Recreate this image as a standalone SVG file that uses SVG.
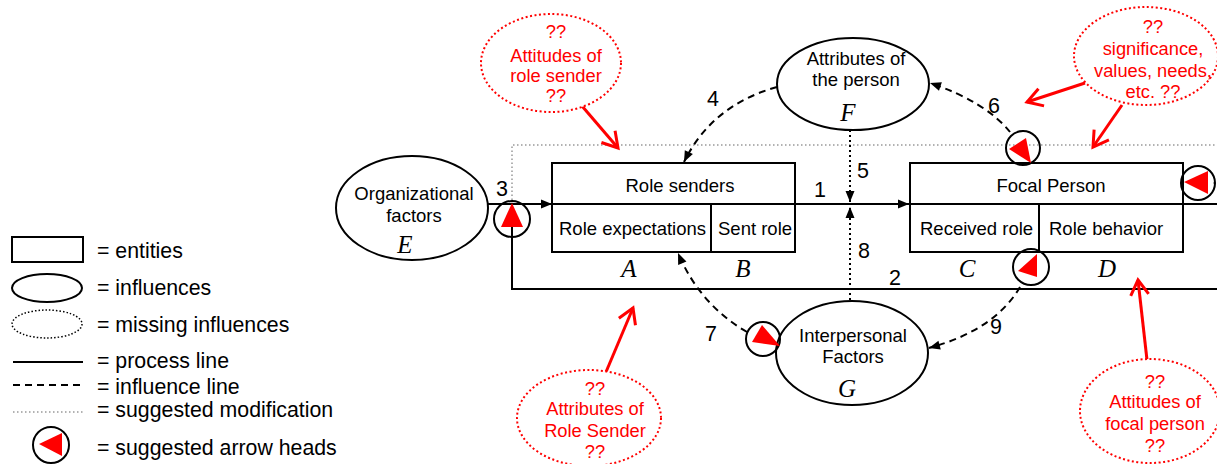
<svg xmlns="http://www.w3.org/2000/svg" width="1217" height="464" viewBox="0 0 1217 464">
  <defs>
    <style>
      .lbl { font-family: "Liberation Sans", Arial, sans-serif; font-size: 18.5px; fill: #000; }
      .leg { font-family: "Liberation Sans", Arial, sans-serif; font-size: 21.3px; fill: #000; }
      .num { font-family: "Liberation Sans", Arial, sans-serif; font-size: 21.5px; fill: #000; }
      .red { font-family: "Liberation Sans", Arial, sans-serif; font-size: 18.3px; fill: #ff0000; text-anchor: middle; }
      .ital { font-family: "Liberation Serif", "Times New Roman", serif; font-style: italic; font-size: 25px; fill: #000; }
      .box { fill: #fff; stroke: #000; stroke-width: 2; }
      .ell { fill: #fff; stroke: #000; stroke-width: 2; }
      .proc { fill: none; stroke: #000; stroke-width: 2; }
      .infl { fill: none; stroke: #000; stroke-width: 2; stroke-dasharray: 7 5; }
      .dot { fill: none; stroke: #000; stroke-width: 2; stroke-dasharray: 2 3; }
      .sugg { fill: none; stroke: #999; stroke-width: 1.5; stroke-dasharray: 1.5 2.5; }
      .miss { fill: #fff; stroke: #ff0000; stroke-width: 2; stroke-dasharray: 2 2.5; }
      .redarrow { fill: none; stroke: #ff0000; stroke-width: 3; }
      .ring { fill: none; stroke: #000; stroke-width: 2; }
      .tri { fill: #ff0000; stroke: none; }
    </style>
    <marker id="arr" markerUnits="userSpaceOnUse" viewBox="-12 -6 13 12" refX="0" refY="0" markerWidth="13" markerHeight="12" orient="auto">
      <path d="M-11,-4.5 L0,0 L-11,4.5 z" fill="#000"/>
    </marker>
    <marker id="openRed" markerUnits="userSpaceOnUse" viewBox="-18 -12 22 24" refX="0" refY="0" markerWidth="22" markerHeight="24" orient="auto">
      <path d="M-15,-9 L0,0 L-15,9" fill="none" stroke="#ff0000" stroke-width="3"/>
    </marker>
  </defs>

  <rect width="1217" height="464" fill="#fff"/>

  <!-- legend -->
  <g id="legend">
    <rect x="12" y="237" width="71" height="25" class="box"/>
    <text x="97" y="258" class="leg">= entities</text>
    <ellipse cx="47" cy="288" rx="35" ry="14" class="ell"/>
    <text x="97" y="295" class="leg">= influences</text>
    <ellipse cx="47" cy="324" rx="35" ry="14" fill="none" stroke="#000" stroke-width="1.5" stroke-dasharray="1.5 2"/>
    <text x="97" y="332" class="leg">= missing influences</text>
    <line x1="13" y1="362" x2="83" y2="362" class="proc"/>
    <text x="97" y="368" class="leg">= process line</text>
    <line x1="13" y1="385" x2="83" y2="385" class="infl"/>
    <text x="97" y="394" class="leg">= influence line</text>
    <line x1="13" y1="412" x2="83" y2="412" class="sugg"/>
    <text x="97" y="417" class="leg">= suggested modification</text>
    <circle cx="51" cy="445" r="18" class="ring"/>
    <polygon points="39,444 62,433 62,456" class="tri"/>
    <text x="97" y="455" class="leg">= suggested arrow heads</text>
  </g>

  <!-- connectors -->
  <g id="connectors">
    <!-- suggested modification path -->
    <path d="M512,204 V145 H1217" class="sugg"/>
    <line x1="1213" y1="183" x2="1217" y2="183" class="sugg"/>
    <!-- process lines -->
    <line x1="488" y1="204" x2="552" y2="204" class="proc" marker-end="url(#arr)"/>
    <line x1="795" y1="204" x2="909" y2="204" class="proc" marker-end="url(#arr)"/>
    <line x1="1183" y1="204" x2="1217" y2="204" class="proc"/>
    <path d="M1217,289 H512 V206" class="proc"/>
    <!-- influence lines -->
    <path d="M777,87 Q712,105 684,162" class="infl" marker-end="url(#arr)"/>
    <path d="M1010,132 Q986,102 930,83" class="infl" marker-end="url(#arr)"/>
    <path d="M747,332 Q700,305 678,253" class="infl" marker-end="url(#arr)"/>
    <path d="M1020,287 Q995,330 929,348" class="infl" marker-end="url(#arr)"/>
    <!-- dotted influences -->
    <line x1="850" y1="130" x2="850" y2="202" class="dot" marker-end="url(#arr)"/>
    <line x1="850" y1="300" x2="850" y2="207" class="dot" marker-end="url(#arr)"/>
    <!-- labels -->
    <text x="814" y="197" class="num">1</text>
    <text x="889" y="285" class="num">2</text>
    <text x="496" y="196" class="num">3</text>
    <text x="707" y="106" class="num">4</text>
    <text x="857" y="178" class="num">5</text>
    <text x="988" y="113" class="num">6</text>
    <text x="705" y="341" class="num">7</text>
    <text x="858" y="258" class="num">8</text>
    <text x="990" y="334" class="num">9</text>
    <!-- red suggestion arrows -->
    <line x1="582" y1="106" x2="618" y2="148" class="redarrow" marker-end="url(#openRed)"/>
    <line x1="1085" y1="83" x2="1027" y2="102" class="redarrow" marker-end="url(#openRed)"/>
    <line x1="1122" y1="105" x2="1093" y2="147" class="redarrow" marker-end="url(#openRed)"/>
    <line x1="606" y1="372" x2="633" y2="308" class="redarrow" marker-end="url(#openRed)"/>
    <line x1="1147" y1="360" x2="1138" y2="280" class="redarrow" marker-end="url(#openRed)"/>
  </g>

  <!-- E: organizational factors -->
  <g id="node-E">
    <ellipse cx="412" cy="208" rx="76" ry="52" class="ell"/>
    <text x="414" y="200" class="lbl" text-anchor="middle">Organizational</text>
    <text x="414" y="222" class="lbl" text-anchor="middle">factors</text>
    <text x="405" y="253" class="ital" text-anchor="middle">E</text>
  </g>

  <!-- A/B: role senders -->
  <g id="node-role-senders">
    <rect x="552" y="163" width="243" height="89" class="box"/>
    <line x1="552" y1="204" x2="795" y2="204" class="proc"/>
    <line x1="711" y1="204" x2="711" y2="252" class="proc"/>
    <text x="680" y="192" class="lbl" text-anchor="middle">Role senders</text>
    <text x="559" y="235" class="lbl">Role expectations</text>
    <text x="718" y="235" class="lbl">Sent role</text>
    <text x="629" y="277" class="ital" text-anchor="middle">A</text>
    <text x="743" y="277" class="ital" text-anchor="middle">B</text>
  </g>

  <!-- C/D: focal person -->
  <g id="node-focal-person">
    <rect x="910" y="163" width="273" height="89" class="box"/>
    <line x1="910" y1="204" x2="1183" y2="204" class="proc"/>
    <line x1="1039" y1="204" x2="1039" y2="252" class="proc"/>
    <text x="1051" y="192" class="lbl" text-anchor="middle">Focal Person</text>
    <text x="920" y="235" class="lbl">Received role</text>
    <text x="1049" y="235" class="lbl">Role behavior</text>
    <text x="967" y="277" class="ital" text-anchor="middle">C</text>
    <text x="1107" y="277" class="ital" text-anchor="middle">D</text>
  </g>

  <!-- F: attributes of the person -->
  <g id="node-F">
    <ellipse cx="853" cy="84" rx="76" ry="46" class="ell"/>
    <text x="856" y="65" class="lbl" text-anchor="middle">Attributes of</text>
    <text x="856" y="86" class="lbl" text-anchor="middle">the person</text>
    <text x="848" y="121" class="ital" text-anchor="middle">F</text>
  </g>

  <!-- G: interpersonal factors -->
  <g id="node-G">
    <ellipse cx="852" cy="353" rx="76" ry="52" class="ell"/>
    <text x="853" y="342" class="lbl" text-anchor="middle">Interpersonal</text>
    <text x="853" y="363" class="lbl" text-anchor="middle">Factors</text>
    <text x="847" y="397" class="ital" text-anchor="middle">G</text>
  </g>

  <!-- suggested arrow heads -->
  <g id="suggested-heads">
    <circle cx="512" cy="219" r="18" class="ring"/>
    <polygon points="512,203 501,227 523,227" class="tri"/>
    <circle cx="1023" cy="148" r="17" class="ring"/>
    <polygon points="1009,149 1026,138 1031,163" class="tri"/>
    <circle cx="1198" cy="183" r="17" class="ring"/>
    <polygon points="1184,182 1208,171 1208,194" class="tri"/>
    <circle cx="763" cy="339" r="17" class="ring"/>
    <polygon points="762,325 752,342 780,346" class="tri"/>
    <circle cx="1031" cy="267" r="18" class="ring"/>
    <polygon points="1018,271 1037,254 1037,277" class="tri"/>
  </g>

  <!-- missing influences -->
  <g id="missing-role-sender-attitudes">
    <ellipse cx="551" cy="63" rx="70" ry="49" class="miss"/>
    <text x="556" y="38" class="red">??</text>
    <text x="556" y="62" class="red">Attitudes of</text>
    <text x="556" y="82" class="red">role sender</text>
    <text x="556" y="102" class="red">??</text>
  </g>
  <g id="missing-significance">
    <ellipse cx="1146" cy="56" rx="72" ry="49" class="miss"/>
    <text x="1153" y="33" class="red">??</text>
    <text x="1153" y="55" class="red">significance,</text>
    <text x="1153" y="77" class="red">values, needs,</text>
    <text x="1153" y="98" class="red">etc. ??</text>
  </g>
  <g id="missing-role-sender-attributes">
    <ellipse cx="589" cy="418" rx="72" ry="48" class="miss"/>
    <text x="595" y="395" class="red">??</text>
    <text x="595" y="415" class="red">Attributes of</text>
    <text x="595" y="437" class="red">Role Sender</text>
    <text x="595" y="458" class="red">??</text>
  </g>
  <g id="missing-focal-attitudes">
    <ellipse cx="1150" cy="411" rx="70" ry="52" class="miss"/>
    <text x="1155" y="388" class="red">??</text>
    <text x="1155" y="408" class="red">Attitudes of</text>
    <text x="1155" y="430" class="red">focal person</text>
    <text x="1155" y="452" class="red">??</text>
  </g>
</svg>
